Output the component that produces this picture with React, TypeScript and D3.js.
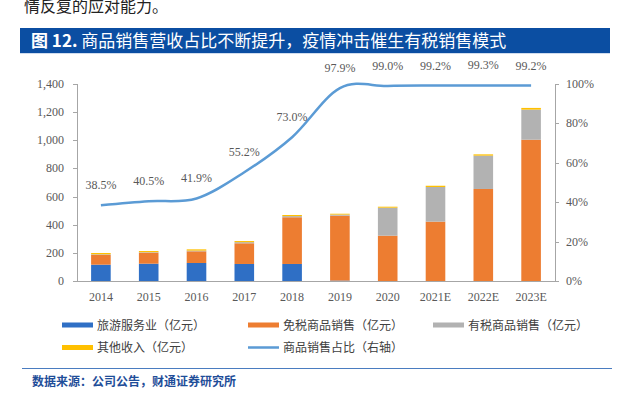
import React from "react";
import * as d3 from "d3";

const years = ["2014", "2015", "2016", "2017", "2018", "2019", "2020", "2021E", "2022E", "2023E"];
const tourism = [116, 123, 128, 121, 121, 3, 0, 0, 0, 0];
const dutyFree = [70, 78, 83, 147, 332, 461, 322, 422, 654, 1004];
const taxed = [4, 4, 5, 8, 8, 8, 199, 246, 237, 214];
const other = [9, 8, 9, 8, 8, 6, 7, 9, 9, 12];
const share = [38.5, 40.5, 41.9, 55.2, 73.0, 97.9, 99.0, 99.2, 99.3, 99.2];
const leftTicks = [0, 200, 400, 600, 800, 1000, 1200, 1400];
const rightTicks = [0, 20, 40, 60, 80, 100];

const seriesNames = ["旅游服务业（亿元）", "免税商品销售（亿元）", "有税商品销售（亿元）", "其他收入（亿元）"];
const seriesColors = ["#2f6fc5", "#ed7d31", "#b2b2b2", "#ffc000"];
const lineName = "商品销售占比（右轴）";
const lineColor = "#5b9bd5";

const W = 625, H = 395;
const plot = { left: 77, right: 555, top: 84, bottom: 281 };
const serif = "'Liberation Serif', 'Times New Roman', serif";
const cjk = "'Noto Sans CJK SC', sans-serif";

export default function App() {
  const x = d3.scaleBand<string>().domain(years).range([plot.left, plot.right]).paddingInner(0.59).paddingOuter(0.295);
  const yL = d3.scaleLinear().domain([0, 1400]).range([plot.bottom, plot.top]);
  const yR = d3.scaleLinear().domain([0, 100]).range([plot.bottom, plot.top]);
  const table = years.map((y, i) => ({ year: y, a: tourism[i], b: dutyFree[i], c: taxed[i], d: other[i] }));
  const stack = d3.stack<any>().keys(["a", "b", "c", "d"])(table);
  const cx = (y: string) => (x(y) as number) + x.bandwidth() / 2;
  const line = d3.line<number>().x((_, i) => cx(years[i])).y((v) => yR(v)).curve(d3.curveCatmullRom.alpha(0));
  const axisColor = "#a6a6a6";
  const textColor = "#595959";

  return (
    <svg width={W} height={H} style={{ position: "absolute", left: 0, top: 0, background: "#fff" }}>
      <text x={24} y={12} fontFamily={cjk} fontSize={16} fill="#222">情反复的应对能力。</text>
      <rect x={20} y={28} width={590} height={25} fill="#0b4ea2" />
      <line x1={20} x2={610} y1={53.5} y2={53.5} stroke="#cfdcee" strokeWidth={1} />
      <text x={31} y={47} fontFamily={cjk} fontSize={17} fill="#fff">
        <tspan fontWeight="bold">图 12.</tspan>
        <tspan> 商品销售营收占比不断提升，疫情冲击催生有税销售模式</tspan>
      </text>

      {stack.map((s, si) => (
        <g key={si} fill={seriesColors[si]}>
          {s.map((d, i) => (
            <rect key={i} x={x(years[i])} width={x.bandwidth()} y={yL(d[1])} height={Math.max(0, yL(d[0]) - yL(d[1]))} />
          ))}
        </g>
      ))}

      <line x1={plot.left} x2={plot.right} y1={plot.bottom + 0.5} y2={plot.bottom + 0.5} stroke={axisColor} />
      <line x1={plot.left + 0.5} x2={plot.left + 0.5} y1={plot.top} y2={plot.bottom} stroke={axisColor} />
      <line x1={plot.right + 0.5} x2={plot.right + 0.5} y1={plot.top} y2={plot.bottom} stroke={axisColor} />
      {leftTicks.map((t) => (
        <g key={t}>
          <line x1={plot.left - 4} x2={plot.left} y1={Math.round(yL(t)) + 0.5} y2={Math.round(yL(t)) + 0.5} stroke={axisColor} />
          <text x={64} y={yL(t) + 4} textAnchor="end" fontFamily={serif} fontSize={12} fill={textColor}>{d3.format(",")(t)}</text>
        </g>
      ))}
      {rightTicks.map((t) => (
        <g key={t}>
          <line x1={plot.right} x2={plot.right + 4} y1={Math.round(yR(t)) + 0.5} y2={Math.round(yR(t)) + 0.5} stroke={axisColor} />
          <text x={566} y={yR(t) + 4} textAnchor="start" fontFamily={serif} fontSize={12} fill={textColor}>{t + "%"}</text>
        </g>
      ))}
      {years.map((y) => (
        <text key={y} x={cx(y)} y={301} textAnchor="middle" fontFamily={serif} fontSize={12} fill={textColor}>{y}</text>
      ))}

      <path d={line(share) || ""} fill="none" stroke={lineColor} strokeWidth={2.5} />
      {share.map((v, i) => (
        <text key={i} x={cx(years[i])} y={yR(v) - 16} textAnchor="middle" fontFamily={serif} fontSize={12} fill={textColor}>{v.toFixed(1) + "%"}</text>
      ))}

      {[0, 1, 2, 3, 4].map((k) => {
        const col = k === 3 ? 0 : k === 4 ? 1 : k;
        const row = k >= 3 ? 1 : 0;
        const sx = [62, 248, 433][col];
        const yy = [325, 347.5][row];
        const isLine = k === 4;
        return (
          <g key={k}>
            <rect x={sx} y={yy - (isLine ? 1.25 : 2.5)} width={31} height={isLine ? 2.5 : 5} fill={isLine ? lineColor : seriesColors[k]} />
            <text x={sx + 35} y={yy + 4.5} fontFamily={cjk} fontSize={12} fill="#404040">{isLine ? lineName : seriesNames[k]}</text>
          </g>
        );
      })}

      <line x1={22} x2={612} y1={368.5} y2={368.5} stroke="#4a7cc0" strokeWidth={1.2} />
      <text x={32} y={386} fontFamily={cjk} fontSize={12} fontWeight="bold" fill="#1f4e99">数据来源：公司公告，财通证券研究所</text>
    </svg>
  );
}
